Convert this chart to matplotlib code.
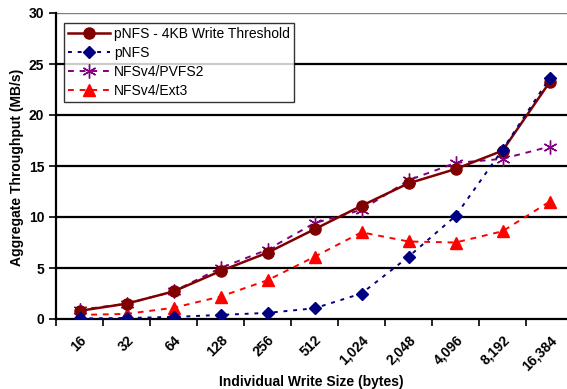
import numpy as np
import matplotlib.pyplot as plt

plt.rcParams['font.family'] = ['Liberation Sans', 'DejaVu Sans']

sizes = ['16', '32', '64', '128', '256', '512', '1,024', '2,048',
         '4,096', '8,192', '16,384']

pnfs_threshold = [0.8, 1.5, 2.7, 4.7, 6.5, 8.8, 11.1, 13.3, 14.7, 16.5, 23.2]
pnfs = [0.05, 0.1, 0.2, 0.4, 0.6, 1.05, 2.5, 6.1, 10.1, 16.6, 23.6]
nfs_pvfs2 = [0.9, 1.5, 2.7, 5.0, 6.8, 9.4, 10.7, 13.6, 15.3, 15.7, 16.9]
nfs_ext3 = [0.4, 0.5, 1.1, 2.2, 3.8, 6.1, 8.5, 7.6, 7.5, 8.6, 11.5]

x = np.arange(len(sizes))

fig = plt.figure(figsize=(5.67, 3.89), dpi=100)
ax = fig.add_axes([56 / 567, (389 - 319) / 389, 517 / 567, 306 / 389])

for y in range(5, 30, 5):
    ax.axhline(y, color='black', lw=1.6, zorder=1)
ax.axhline(30, color='#808080', lw=1.0, zorder=1)

ax.plot(x, pnfs_threshold, color='#800000', lw=1.8, marker='o', ms=8,
        label='pNFS - 4KB Write Threshold', zorder=3)
ax.plot(x, pnfs, color='#000080', lw=1.4, ls=(0, (2, 3)), marker='D', ms=6.5,
        label='pNFS', zorder=4)
ax.plot(x, nfs_pvfs2, color='#800080', lw=1.4, ls=(0, (3, 3)), marker=(6, 2, 0),
        ms=10, mew=1.0, label='NFSv4/PVFS2', zorder=2)
ax.plot(x, nfs_ext3, color='#ff0000', lw=1.4, ls=(0, (3, 3)), marker='^', ms=8,
        label='NFSv4/Ext3', zorder=2)

ax.set_xlim(-0.5, len(sizes) - 0.5)
ax.set_ylim(0, 30)
ax.set_yticks(range(0, 31, 5))

# category boundaries carry the tick marks, labels sit under each category
ax.set_xticks(np.arange(len(sizes) + 1) - 0.5, minor=False)
ax.set_xticklabels([])
ax.set_xticks(x, minor=True)
ax.set_xticklabels(sizes, minor=True, rotation=45, ha='right',
                   rotation_mode='anchor', fontweight='bold', fontsize=10)
ax.tick_params(axis='x', which='minor', length=0, pad=10)
ax.tick_params(axis='x', which='major', length=5, width=1.2, direction='out')
ax.tick_params(axis='y', length=5, width=1.2, direction='out', labelsize=10)
for lab in ax.get_yticklabels():
    lab.set_fontweight('bold')

for side in ['top', 'right']:
    ax.spines[side].set_visible(False)
ax.spines['left'].set_linewidth(1.6)
ax.spines['bottom'].set_linewidth(1.6)

ax.set_xlabel('Individual Write Size (bytes)', fontweight='bold', fontsize=10)
ax.xaxis.set_label_coords(0.493, -0.183)
ax.set_ylabel('Aggregate Throughput (MB/s)', fontweight='bold', fontsize=10)
ax.yaxis.set_label_coords(-0.062, 0.497)

leg = ax.legend(loc='upper left', bbox_to_anchor=(8 / 517, 1 - 10 / 306),
                fontsize=10, frameon=True, fancybox=False, borderpad=0.3,
                handlelength=3.0, labelspacing=0.35, handletextpad=0.3,
                borderaxespad=0)
leg.get_frame().set_edgecolor('black')
leg.get_frame().set_linewidth(1.0)

fig.savefig('out.png', dpi=100)
